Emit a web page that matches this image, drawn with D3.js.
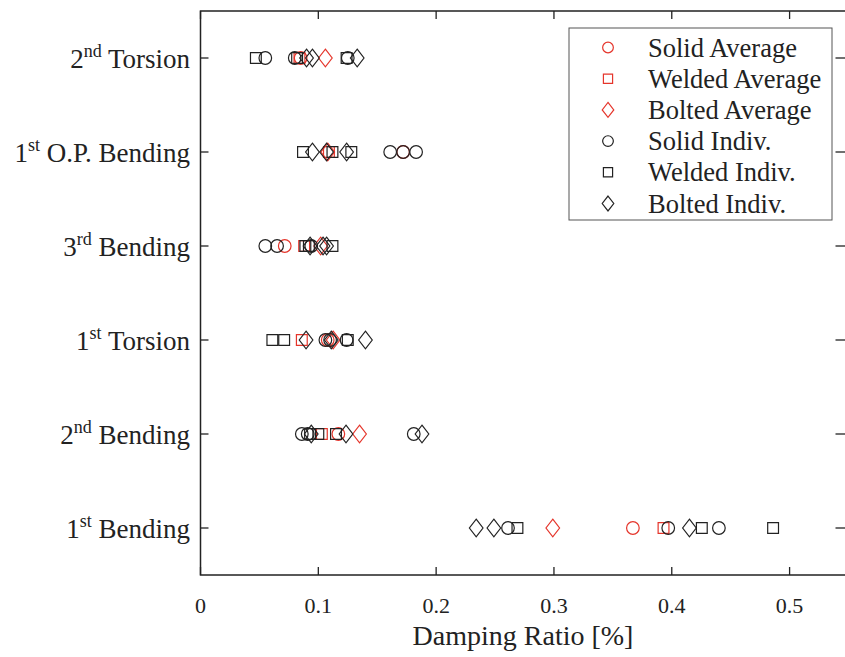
<!DOCTYPE html>
<html>
<head>
<meta charset="utf-8">
<script src="https://cdn.jsdelivr.net/npm/d3@7"></script>
<style>
  body { margin: 0; background: #fff; }
  text { font-family: "Liberation Serif", "Times New Roman", serif; fill: #222; }
</style>
</head>
<body>
<div id="chart"></div>
<script>
// Mode labels, bottom to top
var modeNum  = ["1", "2", "1", "3", "1", "2"];
var modeSup  = ["st", "nd", "st", "rd", "st", "nd"];
var modeName = ["Bending", "Bending", "Torsion", "Bending", "O.P. Bending", "Torsion"];

var xTicks = [0, 0.1, 0.2, 0.3, 0.4, 0.5];

// Averages (one per mode)
var solidAvg  = [0.367, 0.117, 0.108, 0.0715, 0.172, 0.085];
var weldedAvg = [0.393, 0.103, 0.086, 0.088, 0.109, 0.084];
var boltedAvg = [0.299, 0.135, 0.1126, 0.102, 0.108, 0.106];

// Individual tests (three per mode)
var solidIndiv  = [[0.261, 0.397, 0.440], [0.086, 0.091, 0.181], [0.106, 0.110, 0.124],
                   [0.055, 0.065, 0.094], [0.161, 0.172, 0.183], [0.055, 0.080, 0.125]];
var weldedIndiv = [[0.269, 0.4255, 0.486], [0.093, 0.100, 0.115], [0.061, 0.071, 0.125],
                   [0.089, 0.092, 0.112], [0.087, 0.112, 0.128], [0.047, 0.082, 0.124]];
var boltedIndiv = [[0.234, 0.249, 0.415], [0.094, 0.1235, 0.188], [0.0896, 0.111, 0.140],
                   [0.093, 0.104, 0.107], [0.095, 0.107, 0.124], [0.090, 0.095, 0.133]];

var red = "#e5352b", black = "#222";

var W = 845, H = 657;
var svg = d3.select("#chart").append("svg")
    .attr("width", W).attr("height", H);

var x = d3.scaleLinear().domain([0, 0.55]).range([200.5, 848.5]);
var y = d3.scaleLinear().domain([0.5, 6.5]).range([575, 11]);

// marker path generators
function markerPath(shape, s) {
  if (shape === "circle") {
    var r = 6.3 * s;
    return "M" + r + ",0A" + r + "," + r + " 0 1,1 " + (-r) + ",0A" + r + "," + r + " 0 1,1 " + r + ",0Z";
  }
  if (shape === "square") {
    var h = 5.4 * s;
    return "M" + (-h) + "," + (-h) + "H" + h + "V" + h + "H" + (-h) + "Z";
  }
  var dx = 6.8 * s, dy = 8.8 * s;
  return "M0," + (-dy) + "L" + dx + ",0L0," + dy + "L" + (-dx) + ",0Z";
}

// axes box
var x0 = x.range()[0], x1 = x.range()[1], y0 = y.range()[0], y1 = y.range()[1];
svg.append("rect")
    .attr("x", x0).attr("y", y1)
    .attr("width", x1 - x0).attr("height", y0 - y1)
    .attr("fill", "none").attr("stroke", black).attr("stroke-width", 1.5);

var tickLen = 8;
// x ticks (bottom and top, inward)
xTicks.forEach(function (t) {
  svg.append("line").attr("x1", x(t)).attr("x2", x(t))
      .attr("y1", y0).attr("y2", y0 - tickLen).attr("stroke", black).attr("stroke-width", 1.3);
  svg.append("line").attr("x1", x(t)).attr("x2", x(t))
      .attr("y1", y1).attr("y2", y1 + tickLen).attr("stroke", black).attr("stroke-width", 1.3);
  svg.append("text")
      .attr("x", x(t)).attr("y", y0 + 38)
      .attr("text-anchor", "middle")
      .attr("font-size", 22)
      .text(t === 0 ? "0" : d3.format(".1f")(t));
});

// y ticks and mode labels
modeName.forEach(function (name, i) {
  var yy = y(i + 1);
  svg.append("line").attr("x1", x0).attr("x2", x0 + tickLen)
      .attr("y1", yy).attr("y2", yy).attr("stroke", black).attr("stroke-width", 1.3);
  svg.append("line").attr("x1", x1).attr("x2", x1 - tickLen - 5)
      .attr("y1", yy).attr("y2", yy).attr("stroke", black).attr("stroke-width", 1.3);
  var t = svg.append("text")
      .attr("x", 190).attr("y", yy + 10)
      .attr("text-anchor", "end")
      .attr("font-size", 27);
  t.append("tspan").text(modeNum[i]);
  t.append("tspan").attr("font-size", 18).attr("dy", -11).text(modeSup[i]);
  t.append("tspan").attr("dy", 11).text(" " + name);
});

// x axis label
svg.append("text")
    .attr("x", 523).attr("y", 645)
    .attr("text-anchor", "middle")
    .attr("font-size", 28)
    .text("Damping Ratio [%]");

// plot markers
var plotArea = svg.append("g");
function drawAvg(vals, shape) {
  plotArea.selectAll(null).data(vals).enter().append("path")
      .attr("d", markerPath(shape, 1))
      .attr("transform", function (d, i) { return "translate(" + x(d) + "," + y(i + 1) + ")"; })
      .attr("fill", "none").attr("stroke", red).attr("stroke-width", 1.2);
}
function drawIndiv(sets, shape) {
  var flat = [];
  sets.forEach(function (s, i) { s.forEach(function (v) { flat.push({v: v, m: i + 1}); }); });
  plotArea.selectAll(null).data(flat).enter().append("path")
      .attr("d", markerPath(shape, 1))
      .attr("transform", function (d) { return "translate(" + x(d.v) + "," + y(d.m) + ")"; })
      .attr("fill", "none").attr("stroke", black).attr("stroke-width", 1.2);
}
drawAvg(solidAvg, "circle");
drawAvg(weldedAvg, "square");
drawAvg(boltedAvg, "diamond");
drawIndiv(solidIndiv, "circle");
drawIndiv(weldedIndiv, "square");
drawIndiv(boltedIndiv, "diamond");

// legend
var legendItems = [
  {label: "Solid Average", shape: "circle", color: red},
  {label: "Welded Average", shape: "square", color: red},
  {label: "Bolted Average", shape: "diamond", color: red},
  {label: "Solid Indiv.", shape: "circle", color: black},
  {label: "Welded Indiv.", shape: "square", color: black},
  {label: "Bolted Indiv.", shape: "diamond", color: black}
];
var lg = svg.append("g").attr("transform", "translate(569,28)");
lg.append("rect").attr("width", 263).attr("height", 192)
    .attr("fill", "#fff").attr("stroke", "#555").attr("stroke-width", 1);
legendItems.forEach(function (d, i) {
  var ly = 19.5 + i * 31.2;
  lg.append("path").attr("d", markerPath(d.shape, 0.85))
      .attr("transform", "translate(39," + ly + ")")
      .attr("fill", "none").attr("stroke", d.color).attr("stroke-width", 1.2);
  lg.append("text").attr("x", 79).attr("y", ly + 9)
      .attr("font-size", 26.5).text(d.label);
});
</script>
</body>
</html>
